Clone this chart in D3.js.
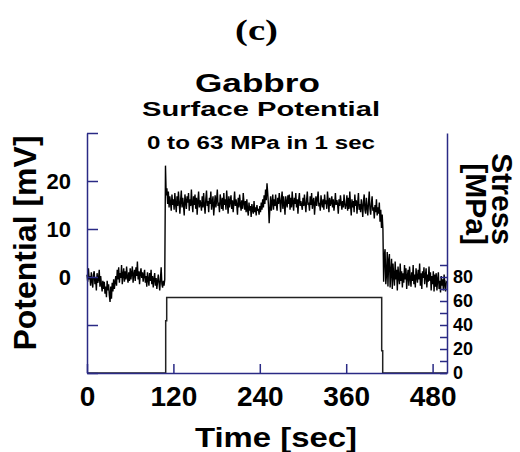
<!DOCTYPE html>
<html>
<head>
<meta charset="utf-8">
<script src="https://cdn.jsdelivr.net/npm/d3@7"></script>
<style>
  html, body { margin: 0; padding: 0; background: #fff; }
  svg { display: block; }
  text { font-family: "Liberation Sans", Arial, Helvetica, sans-serif; font-weight: bold; fill: #000; }
</style>
</head>
<body>
<svg id="chart" width="520" height="452"></svg>
<script>
// ---------------- data ----------------
const panelLabel = "(c)";
const titleMain = "Gabbro";
const titleSub = "Surface Potential";
const titleNote = "0 to 63 MPa in 1 sec";
const xLabel = "Time [sec]";
const yLeftLabel = "Potential [mV]";
const yRightLabel = ["Stress", "[MPa]"];

const timeTicks = [0, 120, 240, 360, 480];
const potentialTicks = [30, 20, 10, 0, -10, -20];
const potentialTickLabels = [20, 10, 0];
const stressTicks = [0, 10, 20, 30, 40, 50, 60, 70, 80, 90];
const stressTickLabels = [0, 20, 40, 60, 80];

// potential sampled every 1 s from t = 0 to t = 500 (mV)
const potentialStep = 1;
const potential = [
   0.5, -1.0,  1.8, -0.5,  0.2, -1.8,  1.0, -0.8, -2.2,  0.5,  1.2, -1.5, -0.2, -2.8,  0.8, -1.2, -0.5,  1.5, -2.0,  0.2,
  -1.5, -3.0, -0.8, -2.5, -1.0, -3.5, -2.0, -4.2, -0.8, -2.8, -1.5, -3.8, -5.2, -2.0, -4.5, -1.2, -3.0, -0.5, -2.5, -1.0,
   0.2, -1.8,  1.5, -0.5,  2.0, -1.2,  0.8, -0.2,  2.5, -1.5,  0.5,  1.8, -1.0,  1.2, -0.5,  2.2,  0.0, -1.2,  1.0, -0.8,
   1.8, -0.5,  0.8,  2.2, -1.2,  0.5,  1.5, -0.8,  2.0,  0.2,  3.2, -0.5,  1.2, -1.5,  0.8,  1.8, -0.2,  1.0, -1.0,  0.5,
   1.5, -1.2,  0.2, -2.0,  1.0, -0.5, -1.8,  0.8, -0.8,  1.5, -1.5,  0.2, -2.2, -0.5,  0.8, -1.8, -0.2, -2.5, -1.0,  0.5,
  -1.2, -2.8, -0.5,  2.0, -1.5, -2.2, -0.8, -1.8, -0.5, 23.2, 17.0, 18.5, 15.2, 17.8, 14.5, 16.8, 15.5, 13.8, 17.2, 15.0,
  16.2, 14.0, 17.5, 15.2, 13.5, 16.8, 14.8, 17.8, 15.5, 13.2, 16.0, 18.0, 14.5, 16.5, 15.0, 12.8, 17.2, 15.8, 14.2, 16.8,
  15.5, 17.5, 13.8, 16.2, 14.8, 18.2, 15.2, 13.5, 16.8, 15.0, 17.2, 14.2, 16.5, 13.0, 15.8, 17.8, 14.5, 16.0, 15.2, 13.8,
  16.8, 14.5, 17.5, 15.0, 13.2, 16.2, 18.0, 14.8, 15.8, 13.5, 16.5, 15.2, 17.8, 14.0, 15.5, 16.8, 12.8, 15.0, 17.0, 14.5,
  16.0, 18.2, 14.8, 15.5, 13.5, 17.2, 15.8, 14.2, 16.5, 13.8, 17.5, 15.0, 16.2, 14.0, 18.0, 15.5, 13.2, 16.8, 14.5, 15.8,
  17.0, 14.2, 16.0, 13.5, 15.5, 17.8, 14.8, 16.2, 15.0, 13.0, 16.5, 14.5, 17.2, 15.2, 13.8, 16.0, 14.2, 17.5, 15.5, 14.0,
  15.8, 13.5, 16.2, 14.0, 12.8, 15.5, 13.8, 14.8, 12.5, 15.2, 14.0, 13.2, 15.8, 13.5, 14.5, 12.8, 15.0, 13.8, 14.2, 13.0,
  14.8, 13.5, 15.5, 14.0, 16.2, 14.5, 17.0, 15.2, 18.2, 16.0, 19.5, 17.5, 15.0, 11.2, 14.2, 16.8, 13.8, 15.5, 17.2, 14.0,
  16.2, 14.8, 17.2, 15.0, 13.8, 16.5, 15.2, 17.5, 15.8, 13.5, 16.2, 17.8, 14.2, 16.8, 15.2, 13.0, 16.8, 15.5, 14.5, 17.0,
  15.2, 17.2, 14.0, 16.5, 14.5, 17.8, 15.5, 13.8, 16.5, 15.2, 17.5, 14.5, 16.2, 13.2, 16.0, 17.5, 14.8, 15.8, 15.0, 14.0,
  16.5, 14.8, 17.2, 15.2, 13.5, 16.0, 17.8, 15.0, 15.5, 13.8, 16.8, 15.0, 17.5, 14.2, 15.8, 16.5, 13.0, 15.2, 16.8, 14.8,
  16.2, 17.8, 15.0, 15.2, 13.8, 17.0, 15.5, 14.5, 16.2, 14.0, 17.2, 15.2, 16.0, 14.2, 17.8, 15.8, 13.5, 16.5, 14.8, 15.5,
  16.8, 14.5, 16.2, 13.8, 15.2, 17.5, 15.0, 16.0, 15.2, 13.2, 16.2, 14.8, 17.0, 15.5, 14.0, 15.8, 14.5, 17.2, 15.2, 14.2,
  15.2, 17.0, 13.8, 16.5, 14.2, 17.8, 15.0, 12.8, 16.2, 14.5, 15.8, 13.5, 17.2, 14.8, 16.0, 13.2, 15.5, 17.5, 14.0, 15.2,
  13.5, 16.2, 14.8, 12.5, 15.8, 17.2, 14.0, 13.2, 16.5, 14.5, 12.8, 15.5, 17.8, 14.2, 13.0, 15.2, 16.8, 13.8, 14.5, 12.2,
  15.0, 13.5, 16.2, 12.8, 14.5, 13.2, 15.5, 11.5, 14.0, 10.2, 13.0, 10.0, -1.0,  4.5,  5.8, -1.5,  0.5,  5.2, -2.0,  3.5,
   4.8, -2.2,  1.0,  3.8, -2.5,  2.8,  0.2, -1.8,  3.2, -0.5,  1.5, -2.8,  2.2,  0.0, -1.5,  2.8, -0.8,  1.2, -2.2,  0.8,
  -1.2,  2.5, -0.5,  1.8, -2.5,  0.2,  1.5, -1.8,  2.2, -0.2, -2.0,  1.0, -0.8,  2.5, -1.5,  0.5, -2.2,  1.8,  0.0, -1.2,
   1.5, -0.5,  2.8, -1.8,  0.8, -2.5,  1.2, -0.2,  2.0, -1.5,  0.2,  1.8, -2.2,  0.5, -1.0,  2.2, -0.8,  1.0, -2.8,  0.2,
  -1.5,  1.2, -3.0,  0.5, -2.0,  0.8, -2.8, -0.5,  1.0, -2.5, -0.8, -3.2,  0.2, -1.8, -0.5, -2.8,  0.5, -1.5, -3.0, -1.0,
  -1.2
];

// applied stress (MPa)
const stressTime  = [0, 109.3, 109.3, 110.7, 110.7, 409.3, 409.3, 410.7, 410.7, 500];
const stressValue = [0, 0,     43.6,  43.6,  63,    63,    18.6,  18.6,  0,     0];

// ---------------- chart ----------------
const svg = d3.select("#chart");
const axisColor = "#2a2a85";

const x = d3.scaleLinear().domain([0, 500]).range([87, 447]);
const yPot = d3.scaleLinear().domain([-20, 30]).range([373, 133]);
const yStress = d3.scaleLinear().domain([0, 200]).range([373, 133]);

// titles
function stretchedText(str, cx, y, size, len, family) {
  const t = svg.append("text")
    .attr("x", cx - len / 2).attr("y", y)
    .attr("font-size", size)
    .attr("textLength", len)
    .attr("lengthAdjust", "spacingAndGlyphs")
    .text(str);
  if (family) t.style("font-family", family);
  return t;
}
stretchedText(panelLabel, 256.5, 40, 30, 43, '"Liberation Serif", "Times New Roman", serif');
stretchedText(titleMain, 257.5, 92, 26, 125);
stretchedText(titleSub, 261, 116, 21, 238);
stretchedText(titleNote, 261, 149, 18, 228);

// data lines
const potData = potential.map((v, i) => [i * potentialStep, v]);
svg.append("path")
  .datum(potData)
  .attr("fill", "none")
  .attr("stroke", "#000")
  .attr("stroke-width", 1.4)
  .attr("d", d3.line().x(d => x(d[0])).y(d => yPot(d[1])));

const stressData = stressTime.map((t, i) => [t, stressValue[i]]);
svg.append("path")
  .datum(stressData)
  .attr("fill", "none")
  .attr("stroke", "#222")
  .attr("stroke-width", 1.5)
  .attr("d", d3.line().x(d => x(d[0])).y(d => yStress(d[1])));

// axes
function styleAxis(g, size) {
  g.attr("font-family", null);
  g.selectAll("path.domain").attr("stroke", axisColor).attr("stroke-width", 1.5);
  g.selectAll(".tick line").attr("stroke", axisColor).attr("stroke-width", 1.5);
  g.selectAll(".tick text")
    .attr("font-size", size)
    .attr("fill", "#000")
    .style("font-family", '"Liberation Sans", Arial, sans-serif')
    .style("font-weight", "bold");
}

const gLeft = svg.append("g")
  .attr("transform", `translate(${x(0)},0)`)
  .call(d3.axisLeft(yPot)
    .tickValues(potentialTicks)
    .tickSizeInner(-11).tickSizeOuter(0).tickPadding(16)
    .tickFormat(d => potentialTickLabels.includes(d) ? d : ""));
styleAxis(gLeft, 22);

const gRight = svg.append("g")
  .attr("transform", `translate(${x(500)},0)`)
  .call(d3.axisRight(yStress)
    .tickValues(stressTicks)
    .tickSizeInner(-7).tickSizeOuter(0).tickPadding(6)
    .tickFormat(d => stressTickLabels.includes(d) ? d : ""));
styleAxis(gRight, 18);

const gBottom = svg.append("g")
  .attr("transform", `translate(0,${yPot(-20)})`)
  .call(d3.axisBottom(x)
    .tickValues(timeTicks)
    .tickSizeInner(-9).tickSizeOuter(0).tickPadding(13)
    .tickFormat(d3.format("d")));
styleAxis(gBottom, 28);

// axis titles
stretchedText(xLabel, 276, 447, 28, 162);

svg.append("text")
  .attr("transform", "translate(36,243) rotate(-90)")
  .attr("text-anchor", "middle")
  .attr("font-size", 32)
  .text(yLeftLabel);

svg.append("text")
  .attr("transform", "translate(492,245) rotate(90)")
  .attr("text-anchor", "end")
  .attr("font-size", 30)
  .text(yRightLabel[0]);
svg.append("text")
  .attr("transform", "translate(466,245) rotate(90)")
  .attr("text-anchor", "end")
  .attr("font-size", 30)
  .text(yRightLabel[1]);
</script>
</body>
</html>
